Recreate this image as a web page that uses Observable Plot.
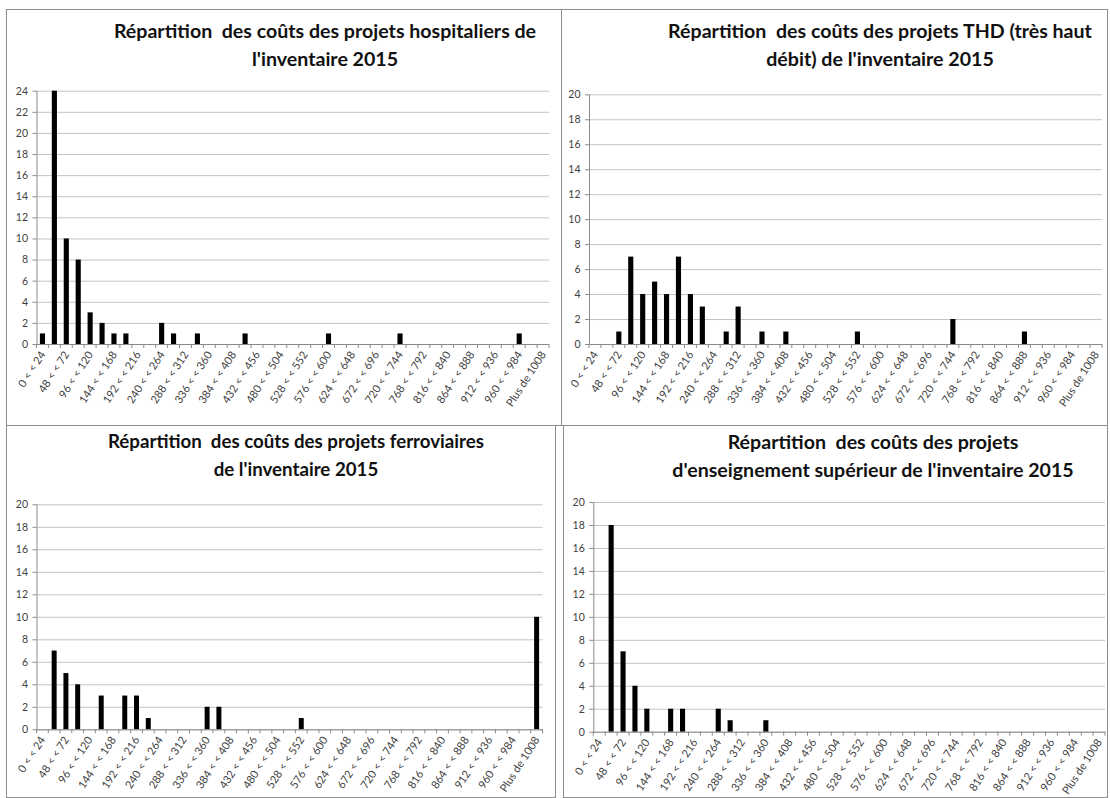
<!DOCTYPE html>
<html><head><meta charset="utf-8">
<script src="https://cdn.jsdelivr.net/npm/d3@7"></script>
<script src="https://cdn.jsdelivr.net/npm/@observablehq/plot@0.6"></script>
<style>
body{margin:0;background:#fff;width:1110px;height:798px;position:relative;overflow:hidden;font-family:Lato,sans-serif}
.panel{position:absolute;border:1.5px solid #8c8c8c;box-sizing:border-box}
.title{position:absolute;width:640px;text-align:center;font-weight:700;font-size:19.6px;line-height:28px;color:#111;white-space:pre}
.chart{position:absolute}
</style></head><body>
<script>
const categories = ["0 < < 24","24 < < 48","48 < < 72","72 < < 96","96 < < 120","120 < < 144","144 < < 168","168 < < 192","192 < < 216","216 < < 240","240 < < 264","264 < < 288","288 < < 312","312 < < 336","336 < < 360","360 < < 384","384 < < 408","408 < < 432","432 < < 456","456 < < 480","480 < < 504","504 < < 528","528 < < 552","552 < < 576","576 < < 600","600 < < 624","624 < < 648","648 < < 672","672 < < 696","696 < < 720","720 < < 744","744 < < 768","768 < < 792","792 < < 816","816 < < 840","840 < < 864","864 < < 888","888 < < 912","912 < < 936","936 < < 960","960 < < 984","984 < < 1008","Plus de 1008"];
const tickLabels = ["0 < < 24","48 < < 72","96 < < 120","144 < < 168","192 < < 216","240 < < 264","288 < < 312","336 < < 360","384 < < 408","432 < < 456","480 < < 504","528 < < 552","576 < < 600","624 < < 648","672 < < 696","720 < < 744","768 < < 792","816 < < 840","864 < < 888","912 < < 936","960 < < 984","Plus de 1008"];

const hospitalValues = [1,24,10,8,3,2,1,1,0,0,2,1,0,1,0,0,0,1,0,0,0,0,0,0,1,0,0,0,0,0,1,0,0,0,0,0,0,0,0,0,1,0,0];
const thdValues      = [0,0,1,7,4,5,4,7,4,3,0,1,3,0,1,0,1,0,0,0,0,0,1,0,0,0,0,0,0,0,2,0,0,0,0,0,1,0,0,0,0,0,0];
const railValues     = [0,7,5,4,0,3,0,3,3,1,0,0,0,0,2,2,0,0,0,0,0,0,1,0,0,0,0,0,0,0,0,0,0,0,0,0,0,0,0,0,0,0,10];
const higherEdValues = [0,18,7,4,2,0,2,2,0,0,2,1,0,0,1,0,0,0,0,0,0,0,0,0,0,0,0,0,0,0,0,0,0,0,0,0,0,0,0,0,0,0,0];

const yTicks24 = [0,2,4,6,8,10,12,14,16,18,20,22,24];
const yTicks20 = [0,2,4,6,8,10,12,14,16,18,20];

const titles = [
  ["Répartition  des coûts des projets hospitaliers de", "l'inventaire 2015"],
  ["Répartition  des coûts des projets THD (très haut", "débit) de l'inventaire 2015"],
  ["Répartition  des coûts des projets ferroviaires", "de l'inventaire 2015"],
  ["Répartition  des coûts des projets", "d'enseignement supérieur de l'inventaire 2015"]
];

function boundaryTicks(index, scales, values, dims) {
  const x = scales.x, y = scales.y;
  const bw = typeof x.bandwidth === "function" ? x.bandwidth() : (dims.width - dims.marginLeft - dims.marginRight) / categories.length;
  const y0 = y(0);
  const xs = categories.map(c => x(c)).concat([x(categories[categories.length - 1]) + bw]);
  const g = d3.create("svg:g").attr("stroke", "#8a8a8a");
  g.selectAll("line").data(xs).join("line")
    .attr("x1", d => d).attr("x2", d => d).attr("y1", y0).attr("y2", y0 + 4);
  return g.node();
}

function addPanel(l, t, w, h) {
  const d = document.createElement("div");
  d.className = "panel";
  Object.assign(d.style, {left: l + "px", top: t + "px", width: w + "px", height: h + "px"});
  document.body.appendChild(d);
}
function addTitle(lines, cx, top, size) {
  const d = document.createElement("div");
  d.className = "title";
  d.style.left = (cx - 320) + "px";
  d.style.top = top + "px";
  if (size) d.style.fontSize = size + "px";
  d.textContent = lines.join("\n");
  document.body.appendChild(d);
}
function drawChart(o) {
  const data = categories.map((c, i) => ({cat: c, v: o.values[i]}));
  const p = Plot.plot({
    width: o.width, height: o.height,
    marginLeft: o.mL, marginRight: o.mR, marginTop: o.mT, marginBottom: o.mB,
    style: {fontFamily: "Lato, sans-serif", fontSize: "11px", color: "#404040", background: "transparent", overflow: "visible"},
    x: {type: "band", domain: categories, padding: 0},
    y: {domain: [0, o.yMax]},
    marks: [
      Plot.gridY(o.yTicks, {stroke: "#c4c4c4", strokeOpacity: 1}),
      Plot.barY(data, {x: "cat", y: "v", fill: "#000", insetLeft: 3.4, insetRight: 3.4}),
      Plot.ruleY([0], {stroke: "#8a8a8a"}),
      Plot.frame({anchor: "left", stroke: "#8a8a8a"}),
      Plot.axisY(o.yTicks, {tickSize: 4, tickPadding: 5, stroke: "#8a8a8a", label: null, tickFormat: d => String(d), fontSize: 10.5}),
      Plot.axisX(tickLabels, {tickSize: 0, tickPadding: 8, tickRotate: -57, label: null}),
      boundaryTicks
    ]
  });
  p.classList.add("chart");
  p.style.left = o.left + "px";
  p.style.top = o.top + "px";
  document.body.appendChild(p);
}

addPanel(6, 9, 556, 417);
addPanel(561, 9, 547, 417);
addPanel(6, 425, 550, 373);
addPanel(563, 425, 545, 373);

addTitle(titles[0], 325, 17);
addTitle(titles[1], 880, 17);
addTitle(titles[2], 296, 427, 18.7);
addTitle(titles[3], 873, 428);

drawChart({values: hospitalValues, yMax: 24, yTicks: yTicks24, left: 6, top: 70, width: 556, height: 356, mL: 30.5, mR: 13, mT: 20.7, mB: 82});
drawChart({values: thdValues, yMax: 20, yTicks: yTicks20, left: 562, top: 70, width: 546, height: 356, mL: 27, mR: 6, mT: 24.3, mB: 82});
drawChart({values: railValues, yMax: 20, yTicks: yTicks20, left: 6, top: 480, width: 550, height: 317, mL: 30.5, mR: 13.5, mT: 24.3, mB: 67.7});
drawChart({values: higherEdValues, yMax: 20, yTicks: yTicks20, left: 563, top: 480, width: 545, height: 317, mL: 30.3, mR: 3, mT: 22, mB: 65.3});
</script>
</body></html>
